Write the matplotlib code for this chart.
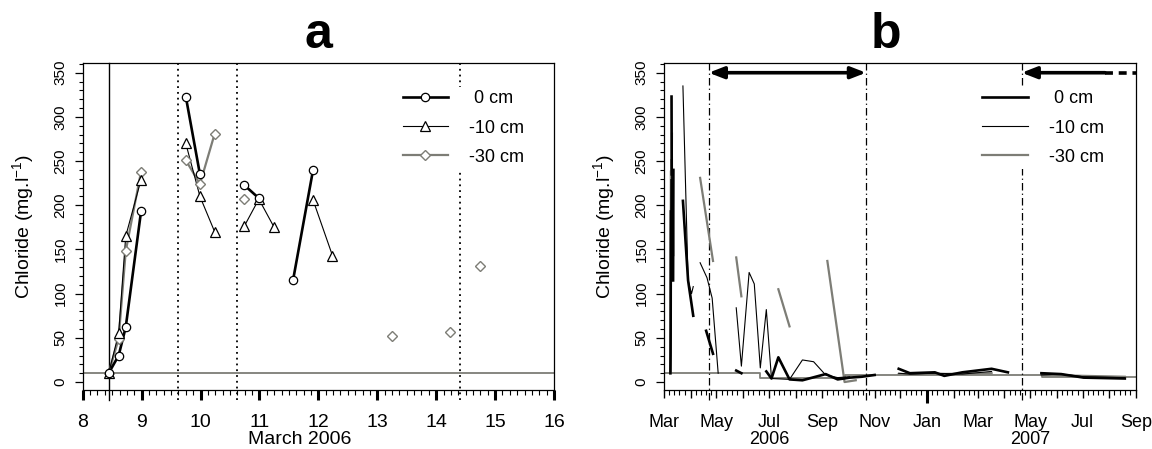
import numpy as np
import pandas as pd
import matplotlib
matplotlib.use("Agg")
import matplotlib.pyplot as plt
import matplotlib.dates as mdates
from matplotlib.lines import Line2D
from matplotlib.ticker import MultipleLocator, FuncFormatter

plt.rcParams['font.family'] = ['Liberation Sans', 'DejaVu Sans']
plt.rcParams['mathtext.fontset'] = 'custom'
plt.rcParams['mathtext.rm'] = 'Liberation Sans'

GREY = '#7d7d76'

# ---- panel a: March 2006 sampling events (day of month, mg/l), nan = gap
a_day_0 = [8.44, 8.61, 8.73, 8.99, np.nan, 9.75, 9.99, np.nan, 10.74, 10.99, np.nan, 11.57, 11.91]
a_cl_0 = [10, 30, 62, 193, np.nan, 323, 235, np.nan, 223, 208, np.nan, 115, 240]
a_day_10 = [8.44, 8.61, 8.73, 8.99, np.nan, 9.75, 9.99, 10.24, np.nan, 10.74, 10.99, 11.25, np.nan, 11.91, 12.24]
a_cl_10 = [10, 55, 165, 229, np.nan, 270, 210, 170, np.nan, 176, 207, 175, np.nan, 206, 143]
a_day_30 = [8.44, 8.61, 8.73, 8.99, np.nan, 9.75, 9.99, 10.24, np.nan, 10.74, np.nan, 13.25, np.nan, 14.24, np.nan, 14.75]
a_cl_30 = [10, 49, 148, 238, np.nan, 251, 224, 281, np.nan, 207, np.nan, 52, np.nan, 57, np.nan, 131]
a_rain_day = 8.45
a_event_days = [9.62, 10.62, 14.41]
a_background = 10

# ---- panel b: later samples, one list per continuous run
b_runs_0 = [
    (["2006-03-23", "2006-03-29", "2006-04-04"], [205, 115, 75]),
    (["2006-04-19", "2006-04-27"], [58, 32]),
    (["2006-05-24", "2006-05-30"], [13, 10]),
    (["2006-06-28", "2006-07-04", "2006-07-12", "2006-07-25", "2006-08-09", "2006-09-05",
      "2006-09-19", "2006-10-03", "2006-10-17", "2006-11-01"],
     [12, 4, 28, 3, 2, 9, 3, 5, 6, 8]),
    (["2006-11-29", "2006-12-12", "2007-01-10", "2007-01-21", "2007-02-11", "2007-03-17", "2007-04-05"],
     [15, 10, 11, 7, 11, 15, 11]),
    (["2007-05-14", "2007-06-06", "2007-07-02", "2007-08-19"], [10, 9, 5, 4]),
]
b_runs_10 = [
    (["2006-03-23", "2006-03-29", "2006-04-02", "2006-04-04"], [335, 115, 100, 108]),
    (["2006-04-12", "2006-04-20", "2006-04-26", "2006-05-03"], [135, 118, 95, 10]),
    (["2006-05-24", "2006-05-30", "2006-06-08", "2006-06-14", "2006-06-21", "2006-06-28",
      "2006-07-04", "2006-07-25", "2006-08-09", "2006-08-22", "2006-09-05", "2006-09-19",
      "2006-10-03"],
     [84, 18, 124, 111, 16, 82, 4, 3, 25, 23, 8, 5, 6]),
    (["2006-11-29", "2006-12-12", "2007-01-10", "2007-02-11", "2007-03-17"], [10, 9, 10, 9, 12]),
    (["2007-05-14", "2007-06-06", "2007-07-02", "2007-08-19"], [8, 9, 6, 5]),
]
b_runs_30 = [
    (["2006-04-12", "2006-04-27"], [231, 137]),
    (["2006-05-24", "2006-05-30"], [141, 97]),
    (["2006-07-12", "2006-07-25"], [105, 63]),
    (["2006-09-07", "2006-09-27", "2006-10-10"], [137, 0, 2]),
    (["2006-11-29", "2007-01-10", "2007-03-17"], [9, 9, 10]),
    (["2007-05-14", "2007-07-02", "2007-08-19"], [8, 7, 6]),
]
bg_dates = ["2006-03-01", "2006-06-21", "2006-09-27", "2007-05-15", "2007-09-01"]
bg_vals = [10, 4.5, 8.5, 5.5, 5.5]

b_event_dates = ["2006-04-22", "2006-10-22", "2007-04-21"]
b_period_1 = ("2006-04-22", "2006-10-22")
b_period_2 = ("2007-04-21", "2007-07-27", "2007-09-01")

depth_labels = [' 0 cm', '-10 cm', '-30 cm']
styles = [dict(color='black', lw=1.9), dict(color='black', lw=0.8), dict(color=GREY, lw=1.6)]
markers = [dict(marker='o', ms=6, mfc='white', mec='black', mew=0.9),
           dict(marker='^', ms=6.5, mfc='white', mec='black', mew=0.9),
           dict(marker='D', ms=5, mfc='white', mec=GREY, mew=1.0)]
# vertical marker lines run a little below the frame, like the original
vline_kw = dict(ymin=-0.03, ymax=1, clip_on=False, zorder=1)


def style_yaxis(ax):
    ax.set_ylim(-9, 361)
    ax.yaxis.set_major_locator(MultipleLocator(50))
    ax.yaxis.set_minor_locator(MultipleLocator(10))
    ax.tick_params(axis='y', which='major', length=6, width=0.9, labelsize=11, pad=5)
    ax.tick_params(axis='y', which='minor', length=3, width=0.8)
    for lab in ax.get_yticklabels():
        lab.set_rotation(90)
        lab.set_va('center')
    ax.set_ylabel('Chloride (mg.l$^{-1}$)', fontsize=14)
    ax.yaxis.set_label_coords(-0.097, 0.5)
    for sp in ax.spines.values():
        sp.set_linewidth(0.9)


fig = plt.figure(figsize=(11.52, 4.49), dpi=100)
ax_a = fig.add_axes([0.0718, 0.1314, 0.4091, 0.7283])
ax_b = fig.add_axes([0.5764, 0.1314, 0.4097, 0.7283])

# ---------------- panel a
ax_a.axhline(a_background, color=GREY, lw=1.3, zorder=1)
ax_a.axvline(a_rain_day, color='black', lw=1.0, **vline_kw)
for d in a_event_days:
    ax_a.axvline(d, color='black', lw=1.3, ls=(0, (1, 2.2)), **vline_kw)

a_sets = [(a_day_0, a_cl_0), (a_day_10, a_cl_10), (a_day_30, a_cl_30)]
for i in [2, 1, 0]:
    day, cl = a_sets[i]
    ax_a.plot(day, cl, **styles[i], zorder=3)
    ax_a.plot(day, cl, ls='none', **markers[i], zorder=4)

ax_a.set_xlim(8, 16)
ax_a.xaxis.set_major_locator(MultipleLocator(1))
ax_a.xaxis.set_minor_locator(MultipleLocator(0.125))
ax_a.tick_params(axis='x', which='major', length=7, width=2.2, labelsize=14, pad=10.5)
ax_a.tick_params(axis='x', which='minor', length=3.5, width=0.8)
ax_a.set_xlabel('March 2006', fontsize=14, va='top')
ax_a.xaxis.set_label_coords(0.461, -0.124)
style_yaxis(ax_a)
ax_a.set_title('a', fontsize=36, fontweight='bold', pad=11)

handles_a = [Line2D([], [], **styles[i], **markers[i]) for i in range(3)]
ax_a.legend(handles_a, depth_labels, loc='upper left', bbox_to_anchor=(0.671, 0.927),
            fontsize=13, frameon=True, facecolor='white', edgecolor='none', framealpha=1,
            fancybox=False, borderpad=0.2, borderaxespad=0, handlelength=2.5,
            handletextpad=1.2, labelspacing=0.67)

# ---------------- panel b
t0 = mdates.date2num(pd.Timestamp("2006-03-01"))
bg_x = mdates.date2num(pd.to_datetime(bg_dates))
ax_b.step(bg_x, bg_vals, where='post', color=GREY, lw=1.3, zorder=1)
for d in b_event_dates:
    ax_b.axvline(mdates.date2num(pd.Timestamp(d)), color='black', lw=0.9,
                 ls=(0, (6, 2.5, 1, 2.5)), **vline_kw)

b_runs = [b_runs_0, b_runs_10, b_runs_30]
for i in [2, 1, 0]:
    day, cl = a_sets[i]
    ax_b.plot(t0 + np.array(day) - 1, cl, **styles[i], zorder=3)
    for dates, vals in b_runs[i]:
        ax_b.plot(mdates.date2num(pd.to_datetime(dates)), vals, **styles[i], zorder=3)

p1 = [mdates.date2num(pd.Timestamp(d)) for d in b_period_1]
p2 = [mdates.date2num(pd.Timestamp(d)) for d in b_period_2]
arrow = dict(arrowstyle='<|-|>,head_length=0.9,head_width=0.35', color='black', lw=2.6,
             shrinkA=0, shrinkB=0)
ax_b.annotate('', xy=(p1[0], 350), xytext=(p1[1], 350), arrowprops=arrow)
arrow2 = dict(arrowstyle='-|>,head_length=0.9,head_width=0.35', color='black', lw=2.6,
              shrinkA=0, shrinkB=0)
ax_b.annotate('', xy=(p2[0], 350), xytext=(p2[1], 350), arrowprops=arrow2)
ax_b.plot([p2[1], p2[2]], [350, 350], color='black', lw=2.6, ls=(0, (2.2, 1.6)),
          solid_capstyle='butt', clip_on=False)

ax_b.set_xlim(mdates.date2num(pd.Timestamp("2006-03-01")), mdates.date2num(pd.Timestamp("2007-09-01")))
ax_b.xaxis.set_major_locator(mdates.MonthLocator())
ax_b.xaxis.set_minor_locator(mdates.DayLocator(bymonthday=[7, 13, 19, 25]))
year_under = {(2006, 7): '2006', (2007, 5): '2007'}


def month_label(x, pos):
    d = mdates.num2date(x)
    if d.month % 2 == 0:
        return ''
    lab = d.strftime('%b')
    if (d.year, d.month) in year_under:
        lab += '\n' + year_under[(d.year, d.month)]
    return lab


ax_b.xaxis.set_major_formatter(FuncFormatter(month_label))
ax_b.tick_params(axis='x', which='major', length=6, width=1.0, labelsize=13, pad=11.5)
ax_b.tick_params(axis='x', which='minor', length=3.5, width=0.8)
for lab in ax_b.get_xticklabels():
    lab.set_linespacing(0.95)
sec = ax_b.secondary_xaxis('bottom')
sec.set_xticks([mdates.date2num(pd.Timestamp("2007-01-01"))])
sec.set_xticklabels([''])
sec.tick_params(length=9, width=2.2)
sec.spines['bottom'].set_visible(False)
style_yaxis(ax_b)
ax_b.set_title('b', fontsize=36, fontweight='bold', pad=11, x=0.47)

handles_b = [Line2D([], [], **styles[i]) for i in range(3)]
ax_b.legend(handles_b, depth_labels, loc='upper left', bbox_to_anchor=(0.667, 0.927),
            fontsize=13, frameon=True, facecolor='white', edgecolor='none', framealpha=1,
            fancybox=False, borderpad=0.2, borderaxespad=0, handlelength=2.5,
            handletextpad=1.2, labelspacing=0.67)

fig.savefig('out.png', dpi=100)
